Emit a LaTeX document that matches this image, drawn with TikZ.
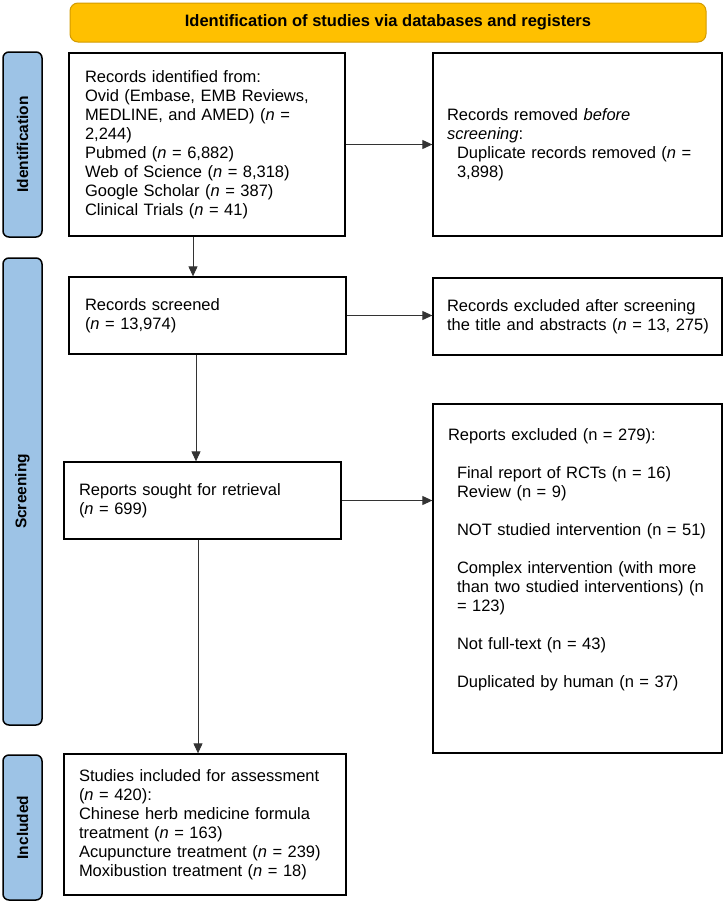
\documentclass[tikz,border=0pt]{standalone}
\usepackage{fontspec}
\setmainfont{Liberation Sans}
\usetikzlibrary{calc}
\usetikzlibrary{positioning}
\usetikzlibrary{arrows.meta}

\definecolor{bannerfill}{HTML}{FFC000}
\definecolor{bannerdraw}{HTML}{D39B00}
\definecolor{phasefill}{HTML}{9DC3E6}

\newcommand{\exclindent}{\hspace*{9pt}}

\begin{document}
\begin{tikzpicture}[%
  >={Triangle[length=10pt,width=9pt]},
  x=1pt, y=-1pt,
  every node/.style={font=\fontsize{16.5}{19}\selectfont},
  flowbox/.style={draw=black, line width=1.3pt, align=left, inner xsep=16pt, inner ysep=0pt},
  phase/.style={draw=black, line width=1.5pt, fill=phasefill, rounded corners=6pt,
    rotate=90, minimum height=39pt, inner sep=0pt,
    font=\fontsize{15.5}{18}\selectfont\bfseries},
  banner/.style={draw=bannerdraw, line width=1pt, fill=bannerfill, rounded corners=8pt,
    minimum width=636pt, minimum height=39pt, inner sep=0pt,
    font=\fontsize{16.5}{19}\selectfont\bfseries},
  flow/.style={->, line width=1pt, draw=black!80},
]

  \useasboundingbox (0,0) rectangle (726,903);

  \node[banner] (header) at (388,22.5) {Identification of studies via databases and registers};

  \node[phase, minimum width=185pt] (idphase) at (22.5,144.5) {Identification};
  \node[phase, minimum width=467pt] (scphase) at (22.5,491.5) {Screening};
  \node[phase, minimum width=145pt] (inphase) at (22.5,827.5) {Included};

  \node[flowbox, text width=244pt, minimum height=183pt] (records) at (207,144.5)
    {Records identified from:\\
     Ovid (Embase, EMB Reviews,\\
     MEDLINE, and AMED) (\textit{n} =\\
     2,244)\\
     Pubmed (\textit{n} = 6,882)\\
     Web of Science (\textit{n} = 8,318)\\
     Google Scholar (\textit{n} = 387)\\
     Clinical Trials (\textit{n} = 41)};

  \node[flowbox, inner xsep=14pt, text width=261pt, minimum height=183pt] (removed) at (577.5,144.5)
    {Records removed \textit{before}\\
     \textit{screening}:\\
     \hspace*{10pt}Duplicate records removed (\textit{n} =\\
     \hspace*{10pt}3,898)};

  \node[flowbox, text width=245pt, minimum height=77pt] (screened) at (207.5,315.5)
    {Records screened\\
     (\textit{n} = 13,974)};

  \node[flowbox, inner xsep=14pt, text width=261pt, minimum height=77pt] (excluded) at (577.5,316.5)
    {Records excluded after screening\\
     \mbox{the title and abstracts (\textit{n} = 13, 275)}};

  \node[flowbox, inner xsep=15pt, text width=247pt, minimum height=77pt] (sought) at (202.5,500.5)
    {Reports sought for retrieval\\
     (\textit{n} = 699)};

  \node[flowbox, inner xsep=15pt, inner ysep=24pt, text width=259pt,
    text height=12pt, text depth=289pt] (reports) at (577.5,578.5)
    {Reports excluded (n = 279):\\[19pt]
     \exclindent Final report of RCTs (n = 16)\\
     \exclindent Review (n = 9)\\[19pt]
     \exclindent NOT studied intervention (n = 51)\\[19pt]
     \exclindent Complex intervention (with more\\
     \exclindent than two studied interventions) (n\\
     \exclindent = 123)\\[19pt]
     \exclindent Not full-text (n = 43)\\[19pt]
     \exclindent Duplicated by human (n = 37)};

  \node[flowbox, inner xsep=15pt, text width=252pt, minimum height=141pt] (studies) at (205,824.5)
    {Studies included for assessment\\
     (\textit{n} = 420):\\
     Chinese herb medicine formula\\
     treatment (\textit{n} = 163)\\
     Acupuncture treatment (\textit{n} = 239)\\
     Moxibustion treatment (\textit{n} = 18)};

  \draw[flow] (records.east) -- (removed.west);
  \draw[flow] (screened.east) -- (screened.east -| excluded.west);
  \draw[flow] (sought.east) -- (sought.east -| reports.west);

  \draw[flow] ([xshift=-14pt]records.south) -- ([xshift=-14.5pt]screened.north);
  \draw[flow] ([xshift=-11.5pt]screened.south) -- ([xshift=-6.5pt]sought.north);
  \draw[flow] ([xshift=-4.5pt]sought.south) -- ([xshift=-7pt]studies.north);

\end{tikzpicture}
\end{document}
